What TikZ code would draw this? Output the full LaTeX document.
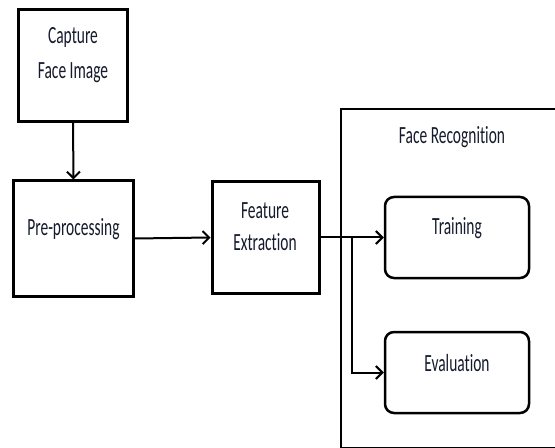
\documentclass[tikz,border=0pt]{standalone}
\usepackage{fontspec}
\setmainfont{Carlito}[Ligatures={NoCommon}]
\usetikzlibrary{arrows.meta}
\definecolor{txt}{HTML}{141B2D}
\newcommand{\stretchtxt}[1]{\scalebox{1}[1.6]{#1}}
\tikzset{
  sqbox/.style={draw=black, line width=3bp, fill=white, inner sep=0pt},
  rbox/.style={draw=black, line width=2.5bp, rounded corners=9bp, fill=white, inner sep=0pt,
    minimum width=144bp, minimum height=81bp},
  lbl/.style={text=txt, font=\fontsize{15.5}{16}\selectfont, align=center, inner sep=0pt},
  arr/.style={line width=2bp, -{Straight Barb[length=6.5bp,width=13bp,line width=2bp]}},
}
\begin{document}
\begin{tikzpicture}[x=1bp,y=-1bp]
\useasboundingbox (0,0) rectangle (555,448);
\clip (0,0) rectangle (555,448);
% big container
\node[draw=black, line width=2bp, minimum width=240bp, minimum height=339bp, inner sep=0pt, anchor=north west] (fr) at (340,108) {};
\node[lbl] (frl) at (452,137) {\stretchtxt{Face Recognition}};
% boxes
\node[sqbox, minimum width=108bp, minimum height=112bp] (cap) at (73,65.5) {};
\node[lbl] (capl) at (73,55) {\stretchtxt{Capture}\\[14bp]\stretchtxt{Face Image}};
\node[sqbox, minimum width=119bp, minimum height=115bp] (pre) at (73.5,238.5) {};
\node[lbl] (prel) at (73.5,229) {\stretchtxt{Pre-processing}};
\node[sqbox, minimum width=107bp, minimum height=112bp] (feat) at (265.5,237.5) {};
\node[lbl] (featl) at (265,227) {\stretchtxt{Feature}\\[14bp]\stretchtxt{Extraction}};
\node[rbox] (train) at (457,237.5) {};
\node[lbl] (trainl) at (457,228) {\stretchtxt{Training}};
\node[rbox] (eval) at (457,372.5) {};
\node[lbl] (evall) at (457,363) {\stretchtxt{Evaluation}};
% connectors
\draw[arr] (cap.south) -- (pre.north);
\draw[arr] (pre.east) -- (feat.west);
\draw[arr] (feat.east) -- (train.west);
\coordinate (j) at (352,237.5);
\draw[arr] (j) |- (eval.west);
\end{tikzpicture}
\end{document}
